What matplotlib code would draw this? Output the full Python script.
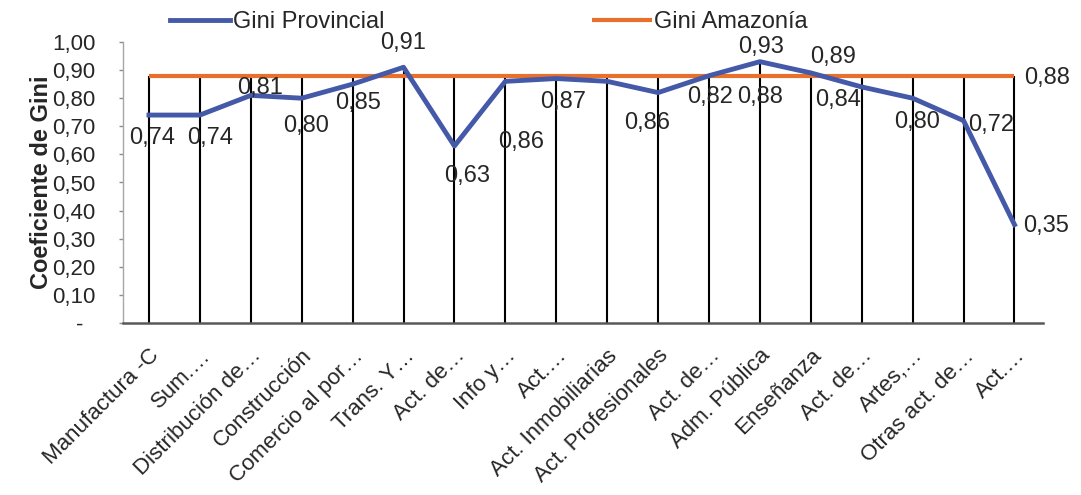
import matplotlib
matplotlib.use("Agg")
import matplotlib.pyplot as plt
import numpy as np
from matplotlib.ticker import FuncFormatter, MultipleLocator

plt.rcParams['font.family'] = ['Liberation Sans', 'DejaVu Sans']

# ---- data ----
categories = ["Manufactura -C", "Sum.\u2026", "Distribución de\u2026", "Construcción",
              "Comercio al por\u2026", "Trans. Y\u2026", "Act. de\u2026", "Info y\u2026",
              "Act.\u2026", "Act. Inmobiliarias", "Act. Profesionales", "Act. de\u2026",
              "Adm. Pública", "Enseñanza", "Act. de\u2026", "Artes,\u2026",
              "Otras act. de\u2026", "Act.\u2026"]
gini_provincial = [0.74, 0.74, 0.81, 0.80, 0.85, 0.91, 0.63, 0.86, 0.87,
                   0.86, 0.82, 0.88, 0.93, 0.89, 0.84, 0.80, 0.72, 0.35]
gini_amazonia = [0.88] * len(categories)
series_names = ["Gini Provincial", "Gini Amazonía"]
y_label = "Coeficiente de Gini"

# label offsets in pixels (dx, dy) relative to each point (style only)
label_offsets_px = [(3, -23), (10, -23), (9, 7), (4, -28), (5, -19), (0, 24),
                    (13, -30), (16, -61), (7, -23), (40, -42), (52, -4), (51, -21),
                    (1, 15), (22, 16), (-24, -13), (4, -24), (28, -4), (32, -1)]
amaz_label_offset_px = (33, -2)

BLUE = "#4459A8"
ORANGE = "#E96F2C"
TXT = "#262626"

fig = plt.figure(figsize=(10.81, 4.95), dpi=100)
ax = fig.add_axes([123/1081, 1-323/495, 920/1081, (323-42)/495])

x = np.arange(len(categories))
prov = np.array(gini_provincial)
amaz = np.array(gini_amazonia)

# drop lines
ax.vlines(x, 0, np.maximum(prov, amaz), color="black", lw=1.5, zorder=2)

l2, = ax.plot(x, amaz, color=ORANGE, lw=3.0, zorder=3, solid_capstyle="butt")
l1, = ax.plot(x, prov, color=BLUE, lw=3.5, zorder=4, solid_joinstyle="round")

px2pt = 0.72
fmt = lambda v: f"{v:.2f}".replace(".", ",")
for xi, v, (dx, dy) in zip(x, prov, label_offsets_px):
    ax.annotate(fmt(v), (xi, v), xytext=(dx*px2pt, dy*px2pt), textcoords="offset points",
                ha="center", va="center", fontsize=17, color=TXT, zorder=5)
ax.annotate(fmt(amaz[-1]), (x[-1], amaz[-1]),
            xytext=(amaz_label_offset_px[0]*px2pt, amaz_label_offset_px[1]*px2pt),
            textcoords="offset points", ha="center", va="center", fontsize=17,
            color=TXT, zorder=5, annotation_clip=False)

ax.set_xlim(-0.51, 17.56)
ax.set_ylim(0, 1.0)
ax.yaxis.set_major_locator(MultipleLocator(0.1))
ax.yaxis.set_major_formatter(FuncFormatter(lambda v, p: "-  " if abs(v) < 1e-9 else fmt(v)))

ax.set_xticks(x)
ax.set_xticklabels(categories, rotation=45, ha="right", rotation_mode="anchor",
                   fontsize=16, color=TXT)
ax.tick_params(axis="x", length=0, pad=16)
ax.tick_params(axis="y", length=3, width=1, color="#8C8C8C", labelsize=16,
               labelcolor=TXT, pad=17)

for s in ["top", "right"]:
    ax.spines[s].set_visible(False)
ax.spines["left"].set_color("#A6A6A6")
ax.spines["left"].set_linewidth(1)
ax.spines["bottom"].set_color("#595959")
ax.spines["bottom"].set_linewidth(1.8)

ax.set_ylabel(y_label, fontsize=17, fontweight="bold", color=TXT)
ax.yaxis.set_label_coords(-0.076, 0.5)

fig.legend([l1, l2], series_names, loc="center left",
           bbox_to_anchor=(170/1081, 1-22/495), ncol=2, frameon=False,
           fontsize=17, handlelength=2.55, handletextpad=0.1, columnspacing=8.8,
           borderpad=0, borderaxespad=0, labelcolor=TXT)

fig.savefig("out.png", dpi=100)
